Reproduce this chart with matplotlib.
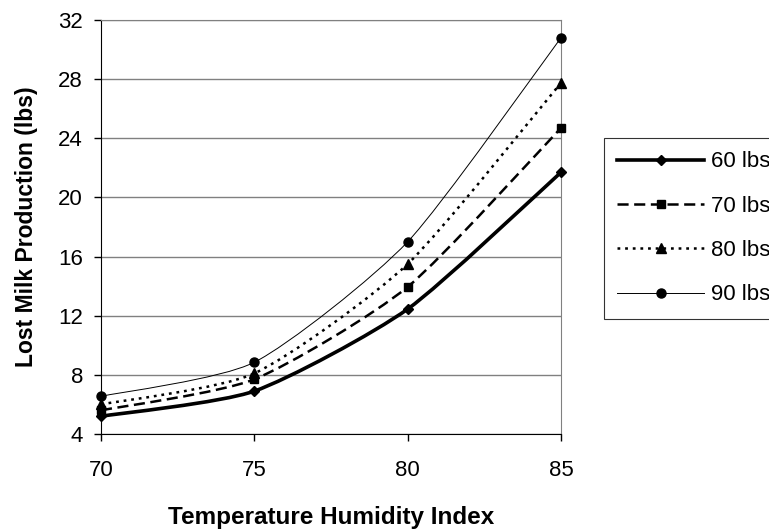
import numpy as np
import matplotlib.pyplot as plt
from matplotlib.path import Path
from matplotlib.patches import PathPatch
from matplotlib.lines import Line2D

plt.rcParams['font.family'] = ['Liberation Sans', 'DejaVu Sans']
plt.rcParams['lines.scale_dashes'] = False

thi = [70, 75, 80, 85]
lbs60 = [5.2, 6.9, 12.45, 21.7]
lbs70 = [5.6, 7.7, 13.95, 24.7]
lbs80 = [6.0, 8.1, 15.5, 27.75]
lbs90 = [6.55, 8.85, 17.0, 30.8]
names = ["60 lbs", "70 lbs", "80 lbs", "90 lbs"]
yticks = [4, 8, 12, 16, 20, 24, 28, 32]

styles = [
    dict(ls='-', lw=2.6, marker='D', ms=5.5),
    dict(ls=(0, (8, 4)), lw=1.8, marker='s', ms=5.5),
    dict(ls=(0, (2, 3.5)), lw=1.8, marker='^', ms=7),
    dict(ls='-', lw=0.7, marker='o', ms=6.5),
]


def smooth_path(x, y, k=0.11):
    # smoothed line like excel: cubic beziers through the points
    p = np.column_stack([x, y]).astype(float)
    ext = np.vstack([p[0], p, p[-1]])
    verts = [p[0]]
    codes = [Path.MOVETO]
    for i in range(len(p) - 1):
        a, b, c, d = ext[i], ext[i + 1], ext[i + 2], ext[i + 3]
        verts += [b + (c - a) * k, c - (d - b) * k, c]
        codes += [Path.CURVE4] * 3
    return Path(verts, codes)


fig = plt.figure(figsize=(7.69, 5.32), dpi=100)
ax = fig.add_axes([101 / 769, 1 - 434 / 532, 460 / 769, 414 / 532])

handles = []
for vals, st, nm in zip([lbs60, lbs70, lbs80, lbs90], styles, names):
    patch = PathPatch(smooth_path(thi, vals), facecolor='none', edgecolor='black',
                      lw=st['lw'], linestyle=st['ls'], zorder=3)
    ax.add_patch(patch)
    ax.plot(thi, vals, linestyle='none', marker=st['marker'], ms=st['ms'],
            color='black', zorder=4, clip_on=False)
    handles.append(Line2D([], [], color='black', lw=st['lw'], linestyle=st['ls'],
                          marker=st['marker'], ms=st['ms']))

ax.set_xlim(70, 85)
ax.set_ylim(4, 32)
ax.set_xticks([70, 75, 80, 85])
ax.set_yticks(yticks)
ax.yaxis.grid(True, color='#808080', lw=1)
ax.set_axisbelow(True)
ax.tick_params(labelsize=16, direction='out', length=5, width=1, color='black')
ax.tick_params(axis='x', pad=14)
ax.tick_params(axis='y', pad=8)
for s in ['top', 'right']:
    ax.spines[s].set_color('#808080')
for s in ['left', 'bottom']:
    ax.spines[s].set_color('black')

ax.set_xlabel("Temperature Humidity Index", fontsize=17.5, fontweight='bold')
ax.set_ylabel("Lost Milk Production (lbs)", fontsize=16.5, fontweight='bold')
ax.xaxis.set_label_coords(0.5, (434 - 506) / 414)
ax.yaxis.set_label_coords((38 - 101) / 460, 0.5)

leg = fig.legend(handles, names, loc='upper left', bbox_to_anchor=(604 / 769, 1 - 138 / 532),
                 fontsize=16, frameon=True, fancybox=False, edgecolor='black',
                 handlelength=3.9, handletextpad=0.3, labelspacing=1.05, borderpad=0.6,
                 borderaxespad=0)
leg.get_frame().set_linewidth(0.8)

fig.savefig("out.png", dpi=100)
